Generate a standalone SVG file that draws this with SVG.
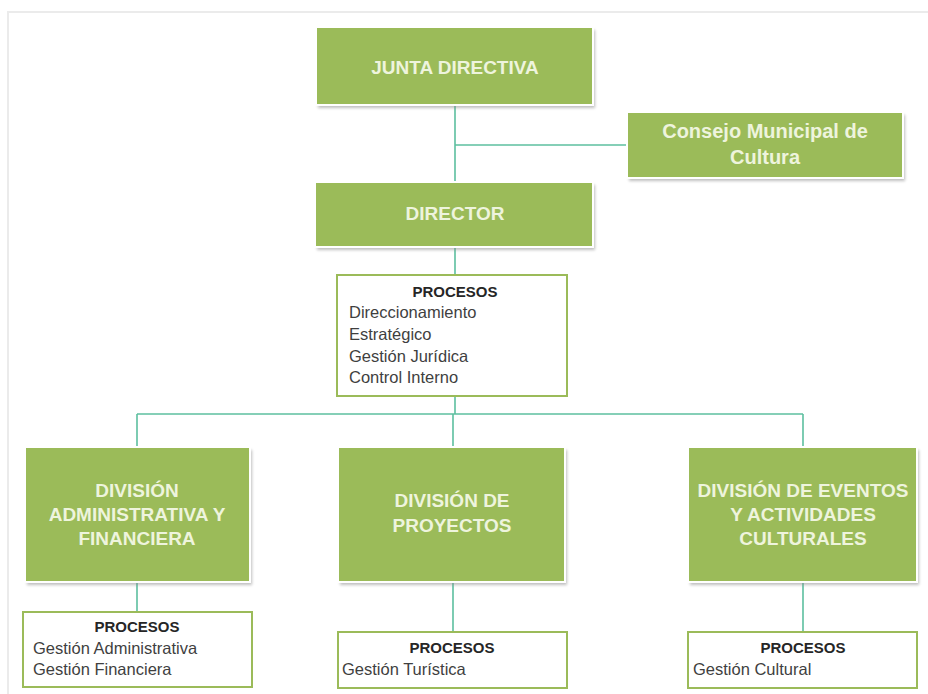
<svg xmlns="http://www.w3.org/2000/svg" width="928" height="694" viewBox="0 0 928 694">
<style>
.box{fill:#9bbb59;stroke:#ffffff;stroke-width:2}
.sh{fill:#8a8a8a;opacity:0.55}
.pbox{fill:#ffffff;stroke:#9bbb59;stroke-width:2}
.ht{font-family:"Liberation Sans",Arial,sans-serif;font-weight:bold;font-size:19px;fill:#eef4dd;text-anchor:middle}
.big{font-size:20px}
.pt{font-family:"Liberation Sans",Arial,sans-serif;font-weight:bold;font-size:15px;fill:#262626;text-anchor:middle}
.lt{font-family:"Liberation Sans",Arial,sans-serif;font-size:16.5px;fill:#3f3f3f}
.cn{stroke:#5cbf9f;stroke-width:1.6;fill:none}
</style>
<defs>
<filter id="blur" x="-5%" y="-5%" width="110%" height="120%"><feGaussianBlur stdDeviation="1.5"/></filter>
</defs>
<rect x="0" y="0" width="928" height="694" fill="#ffffff"/>
<path d="M8 694 V12 H928" stroke="#ebebeb" stroke-width="2" fill="none"/>
<g id="connectors">
<path class="cn" d="M455 106 V181"/>
<path class="cn" d="M455 145 H627"/>
<path class="cn" d="M455 248 V275"/>
<path class="cn" d="M455 396 V414"/>
<path class="cn" d="M137 414 H803"/>
<path class="cn" d="M137 414 V447"/>
<path class="cn" d="M453 414 V447"/>
<path class="cn" d="M803 414 V447"/>
<path class="cn" d="M137 583 V612"/>
<path class="cn" d="M453 583 V632"/>
<path class="cn" d="M803 583 V632"/>
</g>
<g id="junta">
<rect class="sh" x="318" y="30" width="277" height="78" filter="url(#blur)"/>
<rect class="box" x="316" y="27" width="277" height="78"/>
<text class="ht" x="455" y="74">JUNTA DIRECTIVA</text>
</g>
<g id="consejo">
<rect class="sh" x="629" y="115" width="276" height="66" filter="url(#blur)"/>
<rect class="box" x="627" y="112" width="276" height="66"/>
<text class="ht big" x="765" y="138">Consejo Municipal de</text>
<text class="ht big" x="765" y="164">Cultura</text>
</g>
<g id="director">
<rect class="sh" x="317" y="185" width="278" height="65" filter="url(#blur)"/>
<rect class="box" x="315" y="182" width="278" height="65"/>
<text class="ht" x="455" y="220">DIRECTOR</text>
</g>
<g id="procesos-director">
<rect class="pbox" x="337" y="275" width="230" height="121"/>
<text class="pt" x="455" y="297">PROCESOS</text>
<text class="lt" x="349" y="318">Direccionamiento</text>
<text class="lt" x="349" y="340">Estratégico</text>
<text class="lt" x="349" y="362">Gestión Jurídica</text>
<text class="lt" x="349" y="383">Control Interno</text>
</g>
<g id="div-admin">
<rect class="sh" x="27" y="450" width="225" height="135" filter="url(#blur)"/>
<rect class="box" x="25" y="447" width="225" height="135"/>
<text class="ht" x="137" y="497">DIVISIÓN</text>
<text class="ht" x="137" y="521">ADMINISTRATIVA Y</text>
<text class="ht" x="137" y="545">FINANCIERA</text>
</g>
<g id="procesos-admin">
<rect class="pbox" x="23" y="612" width="229" height="75"/>
<text class="pt" x="137" y="632">PROCESOS</text>
<text class="lt" x="33" y="654">Gestión Administrativa</text>
<text class="lt" x="33" y="675">Gestión Financiera</text>
</g>
<g id="div-proyectos">
<rect class="sh" x="340" y="450" width="227" height="135" filter="url(#blur)"/>
<rect class="box" x="338" y="447" width="227" height="135"/>
<text class="ht" x="452" y="507">DIVISIÓN DE</text>
<text class="ht" x="452" y="532">PROYECTOS</text>
</g>
<g id="procesos-proyectos">
<rect class="pbox" x="338" y="632" width="229" height="56"/>
<text class="pt" x="452" y="653">PROCESOS</text>
<text class="lt" x="342" y="675">Gestión Turística</text>
</g>
<g id="div-eventos">
<rect class="sh" x="690" y="450" width="229" height="135" filter="url(#blur)"/>
<rect class="box" x="688" y="447" width="229" height="135"/>
<text class="ht" x="803" y="497">DIVISIÓN DE EVENTOS</text>
<text class="ht" x="803" y="521">Y ACTIVIDADES</text>
<text class="ht" x="803" y="545">CULTURALES</text>
</g>
<g id="procesos-eventos">
<rect class="pbox" x="688" y="632" width="229" height="56"/>
<text class="pt" x="803" y="653">PROCESOS</text>
<text class="lt" x="693" y="675">Gestión Cultural</text>
</g>
</svg>
